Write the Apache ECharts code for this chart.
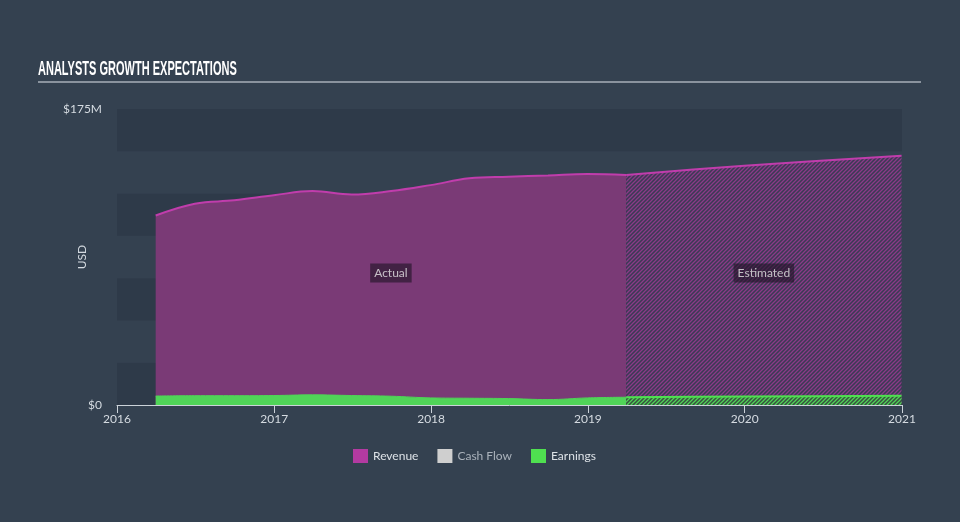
<!DOCTYPE html>
<html>
<head>
<meta charset="utf-8">
<script src="https://cdn.jsdelivr.net/npm/echarts@6/dist/echarts.min.js"></script>
<style>
html,body{margin:0;padding:0;background:#344150;}
#chart{width:960px;height:522px;}
</style>
</head>
<body>
<div id="chart"></div>
<script>
// ---- data ----
const actualDates = ['2016-03-31','2016-06-30','2016-09-30','2016-12-31','2017-03-31','2017-06-30','2017-09-30','2017-12-31','2018-03-31','2018-06-30','2018-09-30','2018-12-31','2019-03-31'];
const revenueActual = [112, 119, 121, 124, 126.5, 124.5, 126.5, 130, 134, 135, 135.7, 136.5, 136];
const earningsActual = [5.3, 5.5, 5.5, 5.6, 6.0, 5.6, 5.2, 4.2, 4.0, 3.8, 3.2, 4.2, 4.6];
const estimateDates = ['2019-03-31','2019-12-31','2020-12-31'];
const revenueEstimate = [136, 141.5, 147.3];
const earningsEstimate = [4.6, 5.0, 5.5];
const cashFlow = [];
const regionLabels = ['Actual', 'Estimated'];
const regionLabelLevel = 78;
const yTickLabels = {0: '$0', 175: '$175M'};
const xMin = '2016-01-01', xMax = '2021-01-01';

function hatch(bg, fg, size, lw) {
  const c = document.createElement('canvas');
  c.width = c.height = size;
  const ctx = c.getContext('2d');
  ctx.fillStyle = bg; ctx.fillRect(0, 0, size, size);
  ctx.strokeStyle = fg; ctx.lineWidth = lw;
  ctx.beginPath();
  ctx.moveTo(0, size); ctx.lineTo(size, 0);
  ctx.moveTo(-1, 1); ctx.lineTo(1, -1);
  ctx.moveTo(size - 1, size + 1); ctx.lineTo(size + 1, size - 1);
  ctx.stroke();
  return c;
}
const t = s => new Date(s).getTime();
const mid = (a, b) => (t(a) + t(b)) / 2;
const pair = (d, v) => d.map((x, i) => [x, v[i]]);
const FONT = 'Lato';
const labelPoints = [
  {name: regionLabels[0], value: [mid(actualDates[0], actualDates[actualDates.length - 1]), regionLabelLevel]},
  {name: regionLabels[1], value: [mid(estimateDates[0], estimateDates[estimateDates.length - 1]), regionLabelLevel]}
];

const chart = echarts.init(document.getElementById('chart'));
chart.setOption({
  backgroundColor: '#344150',
  animation: false,
  grid: {left: 117, right: 58, top: 109, bottom: 117},
  graphic: [
    {type: 'text', x: 38, y: 60, scaleX: 0.58, scaleY: 1.05,
      style: {text: 'ANALYSTS GROWTH EXPECTATIONS', fill: '#ffffff', font: 'bold 19px "Liberation Sans", sans-serif', textVerticalAlign: 'top'}},
    {type: 'line', shape: {x1: 38, y1: 82, x2: 921, y2: 82}, style: {stroke: '#a7afb8', lineWidth: 1.5}}
  ],
  legend: {
    top: 444, left: 348, itemWidth: 15, itemHeight: 14, itemGap: 19, icon: 'rect',
    textStyle: {color: '#dde2e7', fontSize: 12, fontFamily: FONT},
    data: [
      {name: 'Revenue', itemStyle: {color: '#b33aa1'}},
      {name: 'Cash Flow', itemStyle: {color: '#cfcfcf'}, textStyle: {color: '#aab2bb'}},
      {name: 'Earnings', itemStyle: {color: '#4fe050'}}
    ]
  },
  xAxis: {
    type: 'time', min: xMin, max: xMax,
    minInterval: 365 * 86400000, maxInterval: 366 * 86400000,
    axisLine: {show: true, lineStyle: {color: '#cbd2d9', width: 1}},
    axisTick: {show: true, length: 8, lineStyle: {color: '#cbd2d9'}},
    splitLine: {show: false},
    axisLabel: {formatter: '{yyyy}', color: '#d5dbe1', fontSize: 12, fontFamily: FONT, margin: 8, showMinLabel: true, showMaxLabel: true}
  },
  yAxis: {
    type: 'value', min: 0, max: 175, interval: 25,
    name: 'USD', nameLocation: 'middle', nameGap: 29, nameRotate: 90, nameMoveOverlap: false,
    nameTextStyle: {color: '#d5dbe1', fontSize: 12, fontFamily: FONT},
    axisLine: {show: false}, axisTick: {show: false},
    splitLine: {show: false},
    splitArea: {show: true, areaStyle: {color: ['#2e3a49', '#344150']}},
    axisLabel: {color: '#d5dbe1', fontSize: 12, fontFamily: FONT, margin: 15,
      formatter: v => yTickLabels[v] || ''}
  },
  series: [
    {
      name: 'Revenue', type: 'line', smooth: 0.4, symbol: 'none',
      data: pair(actualDates, revenueActual),
      lineStyle: {color: '#c03dac', width: 2},
      itemStyle: {color: '#b33aa1'},
      areaStyle: {color: '#7a3a76', opacity: 1}
    },
    {
      name: 'Revenue', type: 'line', smooth: 0.3, symbol: 'none',
      data: pair(estimateDates, revenueEstimate),
      lineStyle: {color: '#c03dac', width: 2},
      itemStyle: {color: '#b33aa1'},
      areaStyle: {color: {image: hatch('#3a3a54', '#8b3a88', 4, 1.3), repeat: 'repeat'}, opacity: 1}
    },
    {name: 'Cash Flow', type: 'line', symbol: 'none', data: cashFlow, itemStyle: {color: '#cfcfcf'}},
    {
      name: 'Earnings', type: 'line', smooth: 0.4, symbol: 'none',
      data: pair(actualDates, earningsActual),
      lineStyle: {color: '#4fd457', width: 1},
      itemStyle: {color: '#4fe050'},
      areaStyle: {color: '#50d458', opacity: 1}
    },
    {
      name: 'Earnings', type: 'line', smooth: 0.3, symbol: 'none',
      data: pair(estimateDates, earningsEstimate),
      lineStyle: {color: '#4fe050', width: 2},
      itemStyle: {color: '#4fe050'},
      areaStyle: {color: {image: hatch('#38503f', '#4fd457', 4, 1.3), repeat: 'repeat'}, opacity: 1}
    },
    {
      name: 'regionLabels', type: 'scatter', symbolSize: 0, silent: true, z: 10,
      data: labelPoints,
      label: {show: true, position: 'inside', formatter: '{b}', color: '#e6e6e6', fontSize: 12, fontFamily: FONT,
        backgroundColor: 'rgba(35,20,40,0.8)', padding: [4, 4, 3, 4]}
    }
  ]
});
</script>
</body>
</html>
